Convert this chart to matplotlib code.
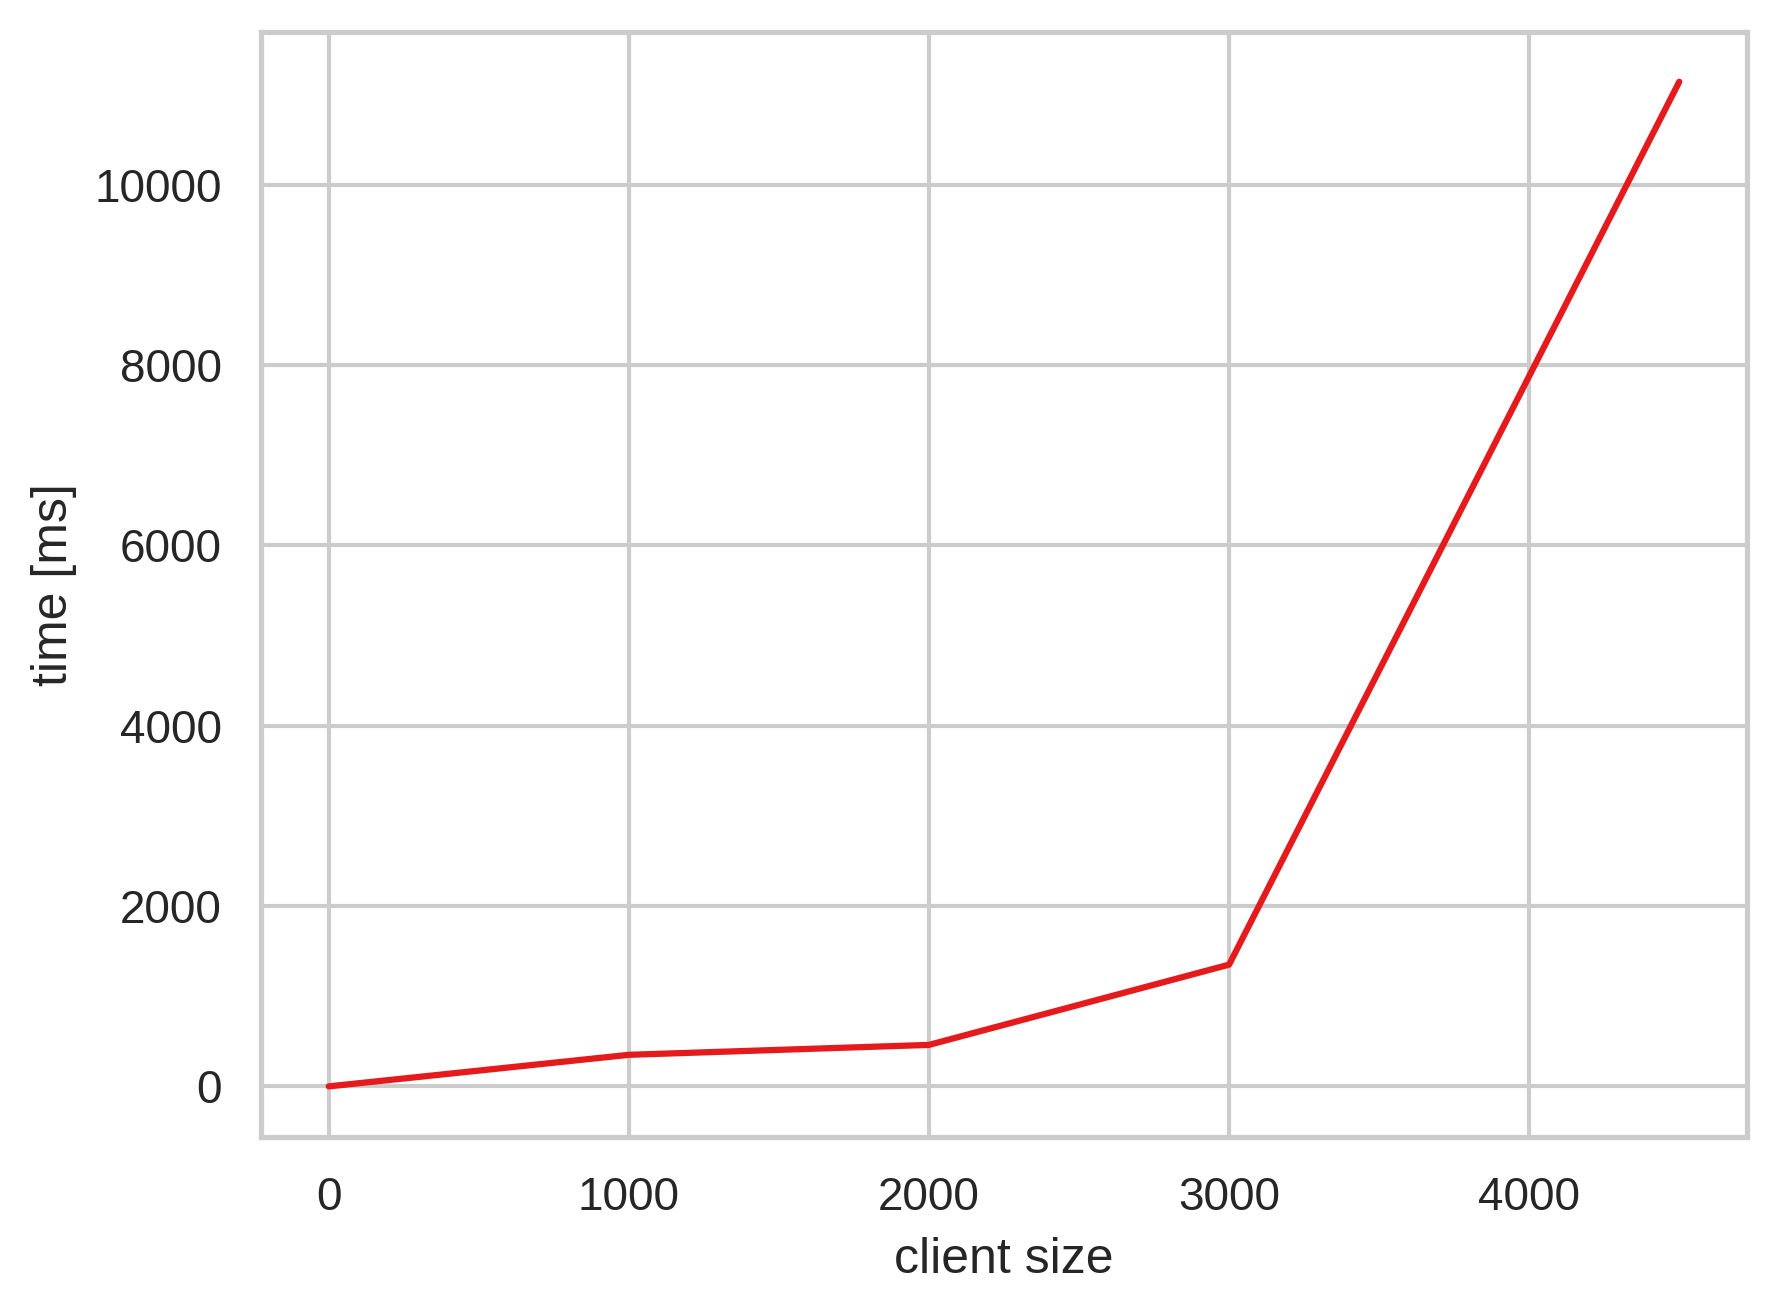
import numpy as np
import matplotlib.pyplot as plt
import seaborn as sns

sns.set_theme(style="whitegrid", context="notebook")
plt.rcParams['font.family'] = ['Liberation Sans', 'DejaVu Sans']

client_size = [0, 1000, 2000, 3000, 4500]
time_ms = [0, 350, 460, 1350, 11140]

fig, ax = plt.subplots(figsize=(1777 / 300, 1314 / 300), dpi=300)
fig.subplots_adjust(left=0.147, right=0.983, top=0.976, bottom=0.135)

ax.plot(client_size, time_ms, color="#e41a1c", linewidth=1.5)
ax.set_xlabel("client size")
ax.set_ylabel("time [ms]")

fig.savefig("out.png", dpi=300)
